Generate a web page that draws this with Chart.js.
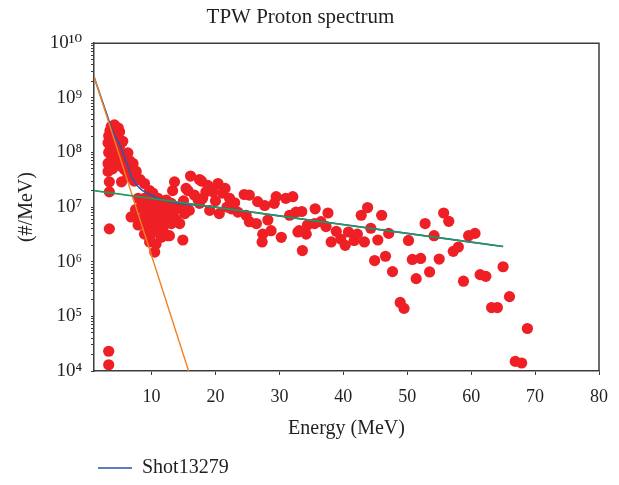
<!DOCTYPE html>
<html>
<head>
<meta charset="utf-8">
<script src="https://cdn.jsdelivr.net/npm/chart.js@4"></script>
<style>
html,body{margin:0;padding:0;background:#fff;}
#wrap{width:619px;height:485px;}
</style>
</head>
<body>
<div id="wrap"><canvas id="c" width="619" height="485"></canvas></div>
<script>
// ---- text ----
const chartTitle = 'TPW Proton spectrum';
const xTitle = 'Energy (MeV)';
const yTitle = '(#/MeV)';
const seriesName = 'Shot13279';

// ---- tick labels ----
const xTickValues = [10, 20, 30, 40, 50, 60, 70, 80];
const yTickValues = [1e4, 1e5, 1e6, 1e7, 1e8, 1e9, 1e10];
const yTickLabels = ['10⁴', '10⁵', '10⁶', '10⁷', '10⁸', '10⁹', '10¹⁰'];

// ---- measured proton spectrum (red points) ----
const protonEnergy = [
  3.3, 3.3, 3.4,
  3.2, 3.2, 3.2, 3.3, 3.3, 3.4, 3.4, 3.5, 3.6, 3.6,
  3.7, 3.8, 3.9, 3.9, 4.0, 4.2, 4.2, 4.4, 4.5, 4.7,
  4.8, 5.0, 5.0, 5.3, 5.3, 5.5, 5.5, 5.8, 6.0, 6.3,
  6.3, 6.6, 6.8, 7.1, 7.6, 7.3, 8.9, 8.2, 9.7, 10.2,
  8.9, 7.9, 8.4,
  6.8, 7.9, 8.9, 9.7, 10.5, 10.7, 11.5, 12.5, 11.5, 13.1,
  14.4, 15.2, 13.6, 12.0, 10.5, 8.9, 9.4, 11.0, 12.5, 10.0,
  11.5, 13.1, 14.9, 15.9, 14.9, 10.0, 12.8, 9.0, 10.2, 11.8,
  13.8, 12.3, 11.0, 9.5,
  7.5, 8.0, 9.8, 10.5, 11.2, 12.0, 13.0, 14.0, 9.8, 11.5,
  12.8, 10.8,
  13.6, 13.3, 15.4, 15.7, 16.1, 17.5, 17.8, 18.8, 20.4, 16.7,
  18.0, 17.3, 19.6, 21.1, 22.2, 19.1, 20.6, 17.5, 22.5, 24.5,
  25.3, 26.6, 27.7, 23.5, 24.8, 25.3, 26.4, 28.2, 27.4, 28.7,
  29.2, 29.5, 31.0, 32.1, 30.3, 31.6, 32.6, 32.9, 34.2, 33.6,
  27.3, 19.0, 21.5, 20.0, 23.0, 21.8, 18.5, 15.0,
  33.5, 35.6, 37.6, 33.1, 34.4, 35.5, 36.5, 37.3, 38.1, 38.9,
  39.6, 40.3, 40.8, 41.7, 42.2, 43.3, 42.8, 43.8, 44.3, 45.4,
  46.0, 47.1, 44.9, 46.6, 47.7, 48.9, 49.5, 50.2, 50.8, 52.1,
  51.4, 52.8, 53.5, 54.2, 55.0, 55.7, 56.5, 57.2, 58.0, 58.8,
  59.6, 60.6, 61.4, 62.3, 65.0, 66.0, 63.2, 64.1, 68.8, 66.9,
  67.9
];
const protonCounts = [
  2.3e4, 1.3e4, 4.0e6,
  1.5e8, 6.3e7, 4.5e7, 1.0e8, 2.0e8, 2.9e7, 1.9e7, 2.5e8, 1.2e8, 7.0e7,
  3.0e8, 1.6e8, 2.0e8, 5.0e7, 2.8e8, 3.2e8, 1.1e8, 2.2e8, 8.0e7, 7.2e7,
  2.8e8, 2.4e8, 1.3e8, 5.5e7, 2.9e7, 1.6e8, 9.0e7, 4.8e7, 6.3e7, 9.8e7,
  3.6e7, 7.0e7, 4.5e7, 6.3e7, 4.5e7, 3.0e7, 2.7e7, 3.2e7, 2.0e7, 1.8e7,
  1.45e7, 1.45e7, 1.0e7,
  6.6e6, 4.7e6, 3.2e6, 2.3e6, 1.5e6, 2.1e6, 2.8e6, 3.0e6, 5.0e6, 5.0e6,
  5.0e6, 7.6e6, 8.7e6, 8.7e6, 8.7e6, 8.7e6, 6.6e6, 6.6e6, 6.6e6, 1.17e7,
  1.17e7, 1.17e7, 9.3e6, 8.7e6, 2.5e6, 3.7e6, 3.0e6, 5.0e6, 5.5e6, 4.0e6,
  6.0e6, 1.35e7, 1.45e7, 1.2e7,
  9.0e6, 6.0e6, 3.0e6, 4.5e6, 3.5e6, 5.5e6, 7.0e6, 1.0e7, 9.5e6, 8.0e6,
  9.5e6, 1.2e7,
  2.9e7, 2.0e7, 2.2e7, 2.0e7, 3.7e7, 3.2e7, 3.0e7, 2.5e7, 2.7e7, 1.66e7,
  1.45e7, 1.35e7, 1.9e7, 1.8e7, 1.45e7, 8.7e6, 7.6e6, 1.17e7, 9.3e6, 1.7e7,
  1.66e7, 1.26e7, 1.07e7, 8.1e6, 7.1e6, 5.4e6, 5.0e6, 5.8e6, 3.2e6, 3.7e6,
  1.17e7, 1.55e7, 1.45e7, 1.55e7, 2.8e6, 7.1e6, 8.1e6, 3.5e6, 3.2e6, 1.6e6,
  2.3e6, 2.2e7, 2.2e7, 1.3e7, 1.2e7, 1.0e7, 1.9e7, 1.3e7,
  8.3e6, 9.3e6, 7.8e6, 3.7e6, 4.7e6, 5.0e6, 5.4e6, 4.4e6, 2.3e6, 3.6e6,
  2.6e6, 2.0e6, 3.5e6, 2.45e6, 3.2e6, 2.3e6, 7.1e6, 9.8e6, 4.1e6, 2.5e6,
  7.1e6, 3.3e6, 1.05e6, 1.26e6, 6.6e5, 1.8e5, 1.4e5, 2.45e6, 1.1e6, 1.15e6,
  4.9e5, 5.0e6, 6.5e5, 3.0e6, 1.12e6, 7.8e6, 5.5e6, 1.55e6, 1.86e6, 4.4e5,
  3.0e6, 3.3e6, 5.8e5, 5.4e5, 8.1e5, 2.3e5, 1.45e5, 1.45e5, 6.0e4, 1.5e4,
  1.4e4
];

// ---- fitted curves ----
const totalFitEnergy = [1, 2, 3, 4, 5, 6, 6.9, 8, 8.6, 10.2, 12.3, 20, 30, 40, 50, 65];
const totalFitCounts = [2.45e9, 1.1e9, 5.0e8, 2.3e8, 1.4e8, 7.0e7, 3.5e7, 2.3e7, 2.0e7, 1.6e7, 1.3e7, 1.0e7, 6.9e6, 4.8e6, 3.3e6, 1.9e6];
const coldFitEnergy = [1, 15.8];
const coldFitCounts = [2.45e9, 1e4];
const hotFitEnergy = [1, 65];
const hotFitCounts = [2.0e7, 1.9e6];

const toPts = (xs, ys) => xs.map((x, i) => ({x: x, y: ys[i]}));

const FONT = "'Liberation Serif', 'DejaVu Serif', serif";
const TXT = '#231f20';
const AXIS = '#3c3c3c';

const framePlugin = {
  id: 'frame',
  afterDatasetsDraw(chart) {
    const a = chart.chartArea, ctx = chart.ctx;
    ctx.save();
    ctx.strokeStyle = AXIS;
    ctx.lineWidth = 1.5;
    ctx.beginPath();
    ctx.moveTo(a.left, a.top);
    ctx.lineTo(a.right, a.top);
    ctx.lineTo(a.right, a.bottom);
    ctx.stroke();
    ctx.restore();
  }
};

new Chart(document.getElementById('c'), {
  type: 'scatter',
  data: {
    datasets: [
      { label: 'hot', data: toPts(hotFitEnergy, hotFitCounts), showLine: true,
        borderColor: 'rgb(36,152,94)', backgroundColor: 'rgb(36,152,94)', borderWidth: 1.6, pointRadius: 0 },
      { label: 'cold', data: toPts(coldFitEnergy, coldFitCounts), showLine: true,
        borderColor: 'rgb(245,128,32)', backgroundColor: 'rgb(245,128,32)', borderWidth: 1.4, pointRadius: 0 },
      { label: seriesName, data: toPts(totalFitEnergy, totalFitCounts), showLine: true,
        cubicInterpolationMode: 'monotone',
        borderColor: 'rgb(44,88,170)', backgroundColor: 'rgb(44,80,165)', borderWidth: 1.6, pointRadius: 0 },
      { label: 'data', data: toPts(protonEnergy, protonCounts), showLine: false,
        pointRadius: 5.6, pointBackgroundColor: 'rgb(238,32,37)', pointBorderWidth: 0,
        backgroundColor: 'rgb(238,32,37)', borderColor: 'rgb(238,32,37)' }
    ]
  },
  options: {
    responsive: false,
    devicePixelRatio: 1,
    animation: false,
    events: [],
    layout: { padding: { left: 0, right: 18, top: 0, bottom: -3 } },
    plugins: {
      tooltip: { enabled: false },
      title: {
        display: true, text: chartTitle, color: TXT,
        font: { family: FONT, size: 21, weight: 'normal' },
        padding: { top: 5, bottom: 13 }
      },
      legend: {
        display: true, position: 'bottom', align: 'start', fullSize: false,
        labels: {
          filter: (item) => item.text === seriesName,
          generateLabels: (chart) => chart.data.datasets.map((d, i) => ({
            text: d.label, fillStyle: 'rgb(44,80,165)', strokeStyle: 'rgb(44,80,165)',
            lineWidth: 0, hidden: false, datasetIndex: i, fontColor: TXT
          })),
          boxWidth: 34, boxHeight: 1.5, padding: 4, color: TXT,
          font: { family: FONT, size: 20 }
        }
      }
    },
    scales: {
      x: {
        type: 'linear', min: 1, max: 80,
        afterBuildTicks: (s) => { s.ticks = xTickValues.map(v => ({value: v})); },
        afterFit: (s) => { s.height = 83; },
        grid: { drawOnChartArea: false, drawTicks: true, tickLength: 4, color: AXIS, tickColor: AXIS },
        border: { display: true, color: AXIS, width: 1.5 },
        ticks: { autoSkip: false, maxRotation: 0, padding: 11, color: TXT, font: { family: FONT, size: 18 } },
        title: { display: true, text: xTitle, color: TXT, font: { family: FONT, size: 20 }, padding: { top: 0, bottom: 13 } }
      },
      y: {
        type: 'logarithmic', min: 1e4, max: 1e10,
        afterBuildTicks: (s) => {
          const t = [];
          for (let k = 0; k < yTickValues.length; k++) {
            const base = yTickValues[k];
            t.push({value: base});
            if (k < yTickValues.length - 1) for (let m = 2; m <= 9; m++) t.push({value: base * m});
          }
          s.ticks = t;
        },
        afterFit: (s) => { s.width = 94; },
        grid: { drawOnChartArea: false, drawTicks: true, tickLength: 3, color: AXIS, tickColor: AXIS },
        border: { display: true, color: AXIS, width: 1.5 },
        ticks: {
          autoSkip: false, padding: 9, color: TXT, font: { family: FONT, size: 19 },
          callback: (v) => { const i = yTickValues.indexOf(v); return i >= 0 ? yTickLabels[i] : ''; }
        },
        title: { display: true, text: yTitle, color: TXT, font: { family: FONT, size: 20 }, padding: { top: 15, bottom: 0 } }
      }
    }
  },
  plugins: [framePlugin]
});
</script>
</body>
</html>
